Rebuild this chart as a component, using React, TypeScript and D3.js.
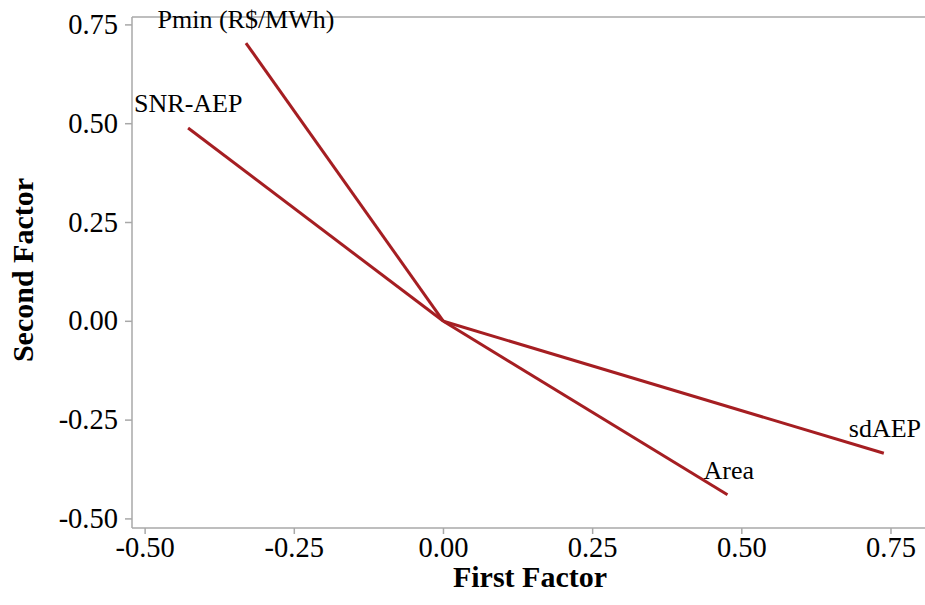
import * as d3 from "d3";

const variables = ["Pmin (R$/MWh)", "SNR-AEP", "Area", "sdAEP"];
const firstFactor = [-0.331, -0.428, 0.476, 0.738];
const secondFactor = [0.704, 0.489, -0.439, -0.334];
const tickValues = [-0.5, -0.25, 0, 0.25, 0.5, 0.75];

// label placement relative to the end of each loading line
const labelOffsets = [
  { dx: 0, dy: -15, anchor: "middle" },
  { dx: -54, dy: -16, anchor: "start" },
  { dx: -24, dy: -16, anchor: "start" },
  { dx: -35, dy: -16, anchor: "start" },
];

export default function App() {
  const width = 925;
  const height = 605;
  const left = 132;
  const top = 17;
  const bottom = 528;
  const right = 925;

  const x = d3.scaleLinear([-0.522, 0.807], [left, right]);
  const y = d3.scaleLinear([-0.523, 0.77], [bottom, top]);
  const axisColor = "#a8a8a8";
  const lineColor = "#a51e22";
  const font = "'Liberation Serif', 'Times New Roman', serif";
  const line = d3
    .line<[number, number]>()
    .x((d) => x(d[0]))
    .y((d) => y(d[1]));

  return (
    <svg
      width={width}
      height={height}
      style={{ position: "absolute", left: 0, top: 0, background: "#fff" }}
      fontFamily={font}
    >
      {/* frame: left, bottom and top lines */}
      <g stroke={axisColor} strokeWidth={1.5} fill="none">
        <line x1={left} x2={left} y1={top} y2={bottom} />
        <line x1={left} x2={right} y1={bottom} y2={bottom} />
        <line x1={left} x2={right} y1={top} y2={top} />
      </g>

      {tickValues.map((t) => (
        <g key={"y" + t}>
          <line x1={left - 7} x2={left} y1={y(t)} y2={y(t)} stroke={axisColor} strokeWidth={1.5} />
          <text x={left - 14} y={y(t) + 9} textAnchor="end" fontSize={28.5}>
            {t.toFixed(2)}
          </text>
        </g>
      ))}
      {tickValues.map((t) => (
        <g key={"x" + t}>
          <line x1={x(t)} x2={x(t)} y1={bottom} y2={bottom + 6} stroke={axisColor} strokeWidth={1.5} />
          <text x={x(t)} y={557} textAnchor="middle" fontSize={28.5}>
            {t.toFixed(2)}
          </text>
        </g>
      ))}

      <g stroke={lineColor} strokeWidth={3} fill="none">
        {variables.map((v, i) => (
          <path key={v} d={line([[0, 0], [firstFactor[i], secondFactor[i]]]) ?? ""} />
        ))}
      </g>

      {variables.map((v, i) => (
        <text
          key={v}
          x={x(firstFactor[i]) + labelOffsets[i].dx}
          y={y(secondFactor[i]) + labelOffsets[i].dy}
          textAnchor={labelOffsets[i].anchor}
          fontSize={26}
        >
          {v}
        </text>
      ))}

      <text x={530} y={587} textAnchor="middle" fontSize={30} fontWeight="bold">
        First Factor
      </text>
      <text
        transform="translate(33,270) rotate(-90)"
        textAnchor="middle"
        fontSize={30}
        fontWeight="bold"
      >
        Second Factor
      </text>
    </svg>
  );
}
